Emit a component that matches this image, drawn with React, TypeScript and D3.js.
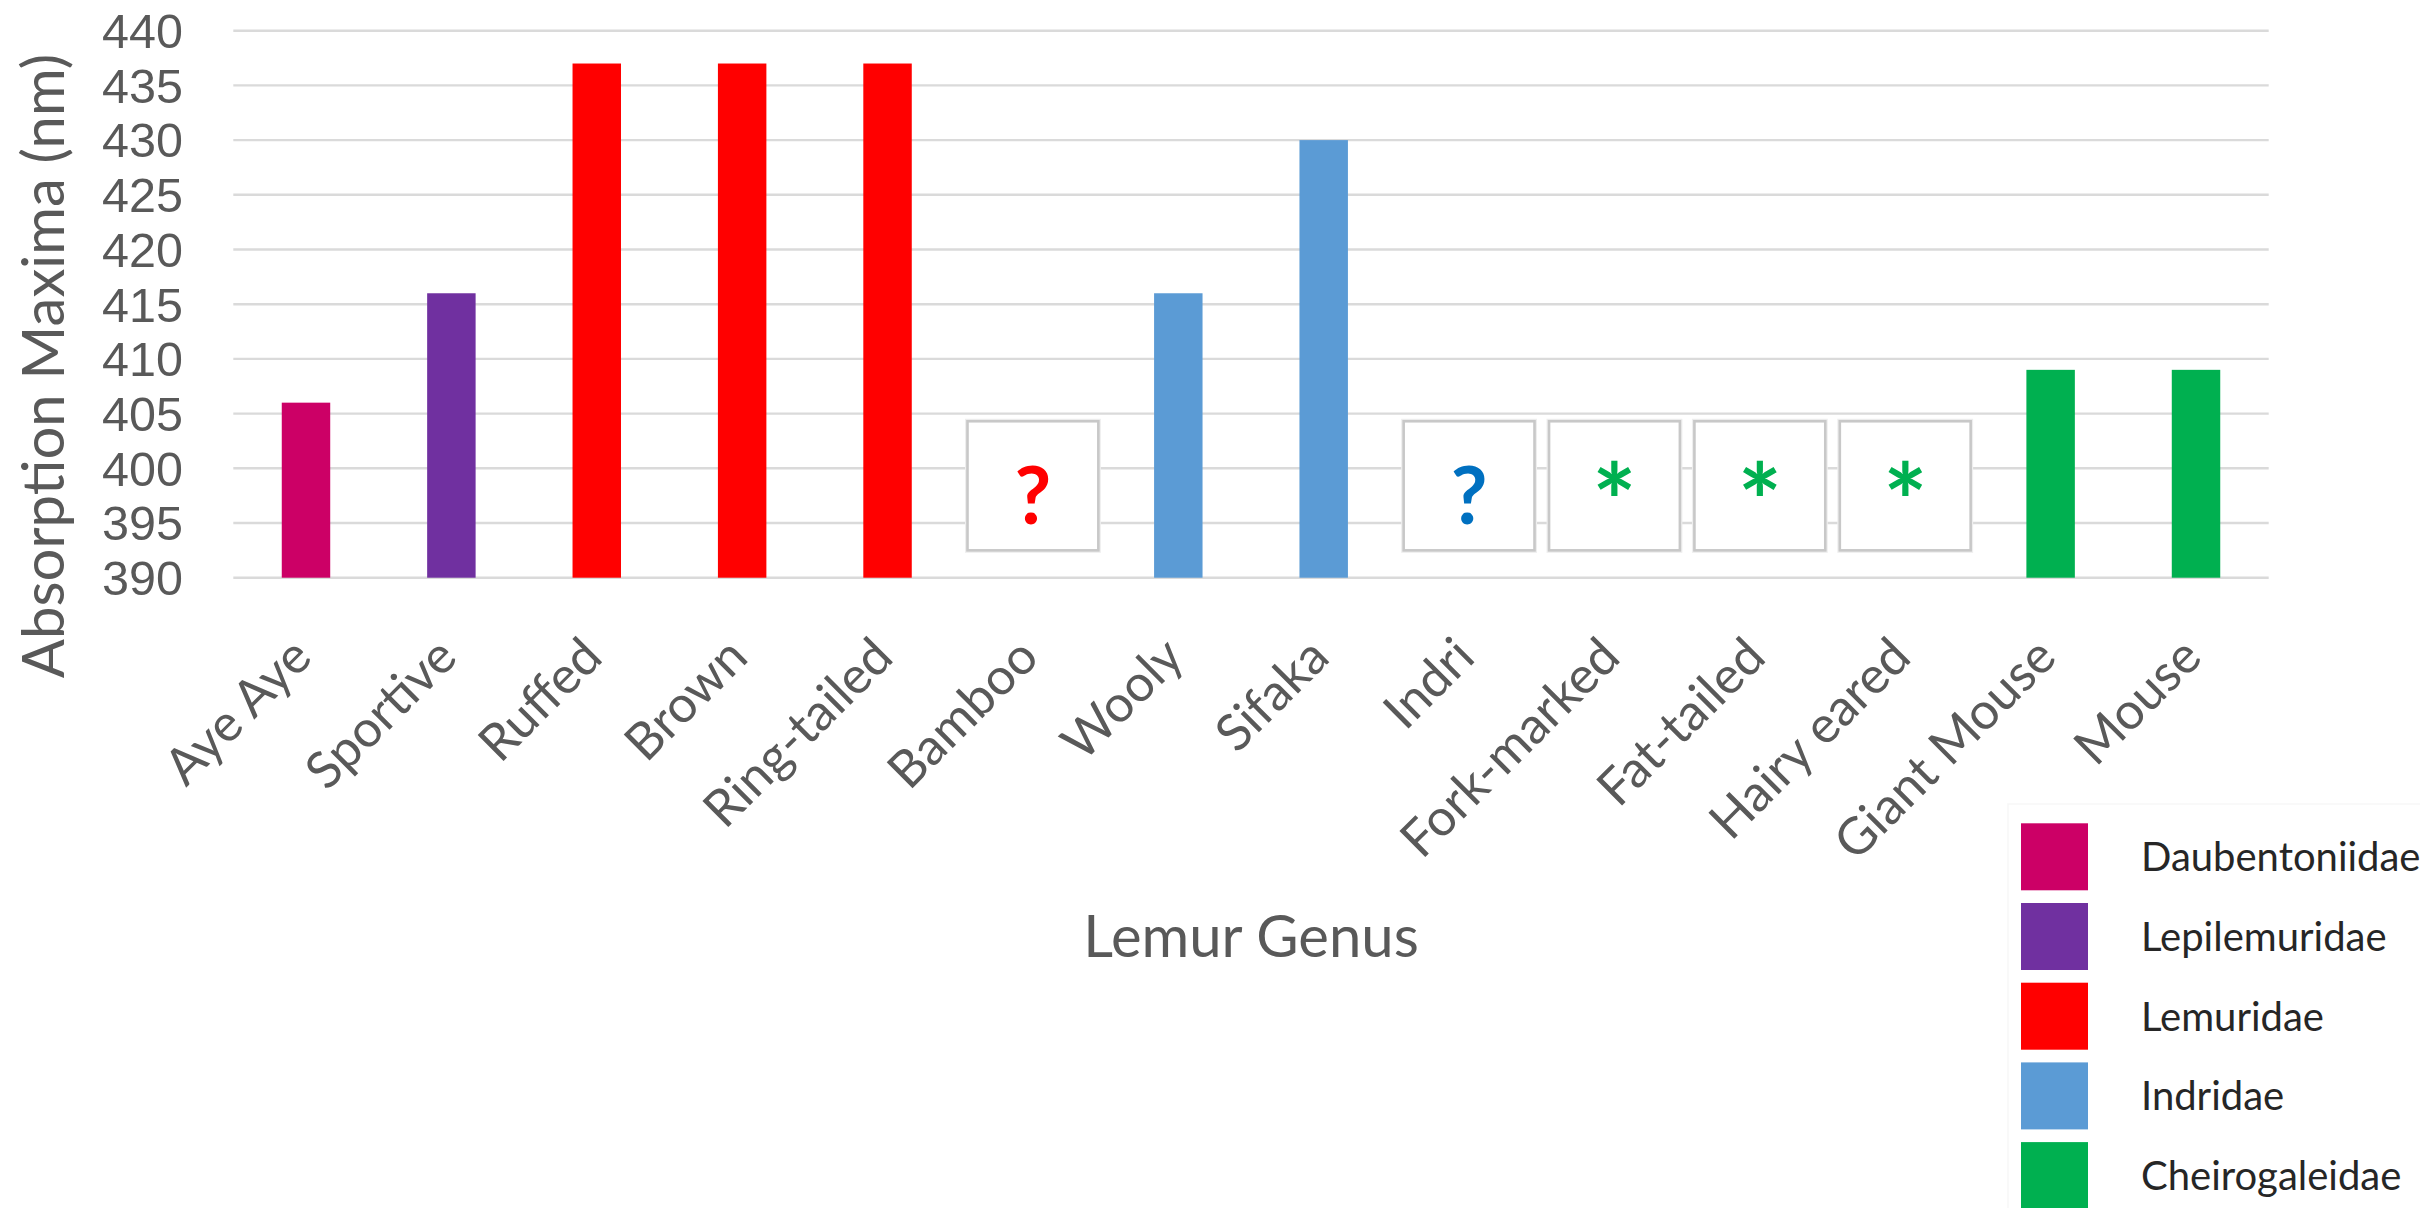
import React from "react";
import * as d3 from "d3";

const categories = [
  "Aye Aye", "Sportive", "Ruffed", "Brown", "Ring-tailed", "Bamboo", "Wooly",
  "Sifaka", "Indri", "Fork-marked", "Fat-tailed", "Hairy eared", "Giant Mouse", "Mouse",
];
const values: (number | null)[] = [406, 416, 437, 437, 437, null, 416, 430, null, null, null, null, 409, 409];
const families = [
  "Daubentoniidae", "Lepilemuridae", "Lemuridae", "Lemuridae", "Lemuridae", "Lemuridae", "Indridae",
  "Indridae", "Indridae", "Cheirogaleidae", "Cheirogaleidae", "Cheirogaleidae", "Cheirogaleidae", "Cheirogaleidae",
];
const legendFamilies = ["Daubentoniidae", "Lepilemuridae", "Lemuridae", "Indridae", "Cheirogaleidae"];
const familyColors = ["#CC0066", "#7030A0", "#FF0000", "#5B9BD5", "#00B050"];
const unknownMarks = ["", "", "", "", "", "?", "", "", "?", "*", "*", "*", "", ""];
const unknownMarkColors = ["", "", "", "", "", "#FF0000", "", "", "#0070C0", "#00B050", "#00B050", "#00B050", "", ""];
const unknownRange = [392.5, 404.3];
const yTicks = [390, 395, 400, 405, 410, 415, 420, 425, 430, 435, 440];
const yDomain = [390, 440];
const yTitle = "Absorption Maxima (nm)";
const xTitle = "Lemur Genus";

const W = 2420;
const H = 1208;
const plot = { left: 233.3, right: 2268.7, top: 30.7, bottom: 577.7 };
const FONT = "Lato, 'Open Sans', sans-serif";
const TICK_FONT = "'Liberation Sans', Arial, sans-serif";

export default function App() {
  const x = d3
    .scaleBand<string>()
    .domain(categories)
    .range([plot.left, plot.right])
    .paddingInner(2 / 3)
    .paddingOuter(1 / 3);
  const y = d3.scaleLinear().domain(yDomain).range([plot.bottom, plot.top]);
  const color = d3.scaleOrdinal<string, string>().domain(legendFamilies).range(familyColors);
  const step = x.step();
  const bw = x.bandwidth();
  const boxW = step * 0.9;
  const boxTop = y(unknownRange[1]);
  const boxBottom = y(unknownRange[0]);
  const boxMid = (boxTop + boxBottom) / 2;
  const center = (c: string) => (x(c) as number) + bw / 2;

  const tickSize = 48.5;
  const labelSize = 51;
  const titleSize = 58;
  const legendSize = 40;

  return (
    <svg
      width={W}
      height={H}
      viewBox={`0 0 ${W} ${H}`}
      style={{ position: "absolute", left: 0, top: 0, background: "#ffffff" }}
      fontFamily={FONT}
    >
      <rect x={0} y={0} width={W} height={H} fill="#ffffff" />
      {/* gridlines */}
      <g>
        {yTicks.map((t) => (
          <line
            key={"g" + t}
            x1={plot.left}
            x2={plot.right}
            y1={y(t)}
            y2={y(t)}
            stroke="#dadada"
            strokeWidth={2.4}
          />
        ))}
      </g>
      {/* y tick labels */}
      <g fontFamily={TICK_FONT}>
        {yTicks.map((t) => (
          <text
            key={"t" + t}
            x={183}
            y={y(t) + tickSize * 0.716 / 2}
            textAnchor="end"
            fontSize={tickSize}
            fill="#595959"
          >
            {t}
          </text>
        ))}
      </g>
      {/* bars */}
      <g>
        {categories.map((c, i) =>
          values[i] == null ? null : (
            <rect
              key={"b" + c}
              x={x(c)}
              y={y(values[i] as number)}
              width={bw}
              height={y(yDomain[0]) - y(values[i] as number)}
              fill={color(families[i])}
            />
          )
        )}
      </g>
      {/* unknown-value boxes */}
      <g>
        {categories.map((c, i) =>
          unknownMarks[i] === "" ? null : (
            <g key={"u" + c}>
              <rect
                x={center(c) - boxW / 2 - 1.5}
                y={boxTop - 1.5}
                width={boxW + 3}
                height={boxBottom - boxTop + 3}
                fill="none"
                stroke="#eeeeee"
                strokeWidth={2}
              />
              <rect
                x={center(c) - boxW / 2}
                y={boxTop}
                width={boxW}
                height={boxBottom - boxTop}
                fill="#ffffff"
                stroke="#c8c8c8"
                strokeWidth={2.6}
              />
              {unknownMarks[i] === "?" ? (
                <text
                  x={center(c)}
                  y={boxMid + 10 + 80 * 0.717 / 2}
                  textAnchor="middle"
                  fontSize={80}
                  fontWeight="bold"
                  fill={unknownMarkColors[i]}
                >
                  ?
                </text>
              ) : (
                <text
                  x={center(c)}
                  y={boxMid - 4 + 104 * 0.55}
                  textAnchor="middle"
                  fontSize={104}
                  fontWeight="bold"
                  fill={unknownMarkColors[i]}
                >
                  *
                </text>
              )}
            </g>
          )
        )}
      </g>
      {/* category labels */}
      <g>
        {categories.map((c) => (
          <text
            key={"l" + c}
            transform={`translate(${center(c) + 8},${plot.bottom + 82}) rotate(-45)`}
            textAnchor="end"
            fontSize={labelSize}
            fill="#595959"
          >
            {c}
          </text>
        ))}
      </g>
      {/* axis titles */}
      <text
        transform={`translate(64,366) rotate(-90)`}
        textAnchor="middle"
        fontSize={titleSize}
        fill="#595959"
      >
        {yTitle}
      </text>
      <text x={(plot.left + plot.right) / 2} y={956.7} textAnchor="middle" fontSize={titleSize} fill="#595959">
        {xTitle}
      </text>
      {/* legend */}
      <g>
        <rect x={2008} y={804} width={440} height={430} fill="#ffffff" stroke="#f7f7f7" strokeWidth={1.5} />
        {legendFamilies.map((f, i) => (
          <g key={"lg" + f}>
            <rect x={2021} y={823.3 + i * 79.7} width={67} height={67} fill={color(f)} />
            <text
              x={2141}
              y={823.3 + i * 79.7 + 33.5 + legendSize * 0.717 / 2}
              fontSize={legendSize}
              fill="#262626"
            >
              {f}
            </text>
          </g>
        ))}
      </g>
    </svg>
  );
}
